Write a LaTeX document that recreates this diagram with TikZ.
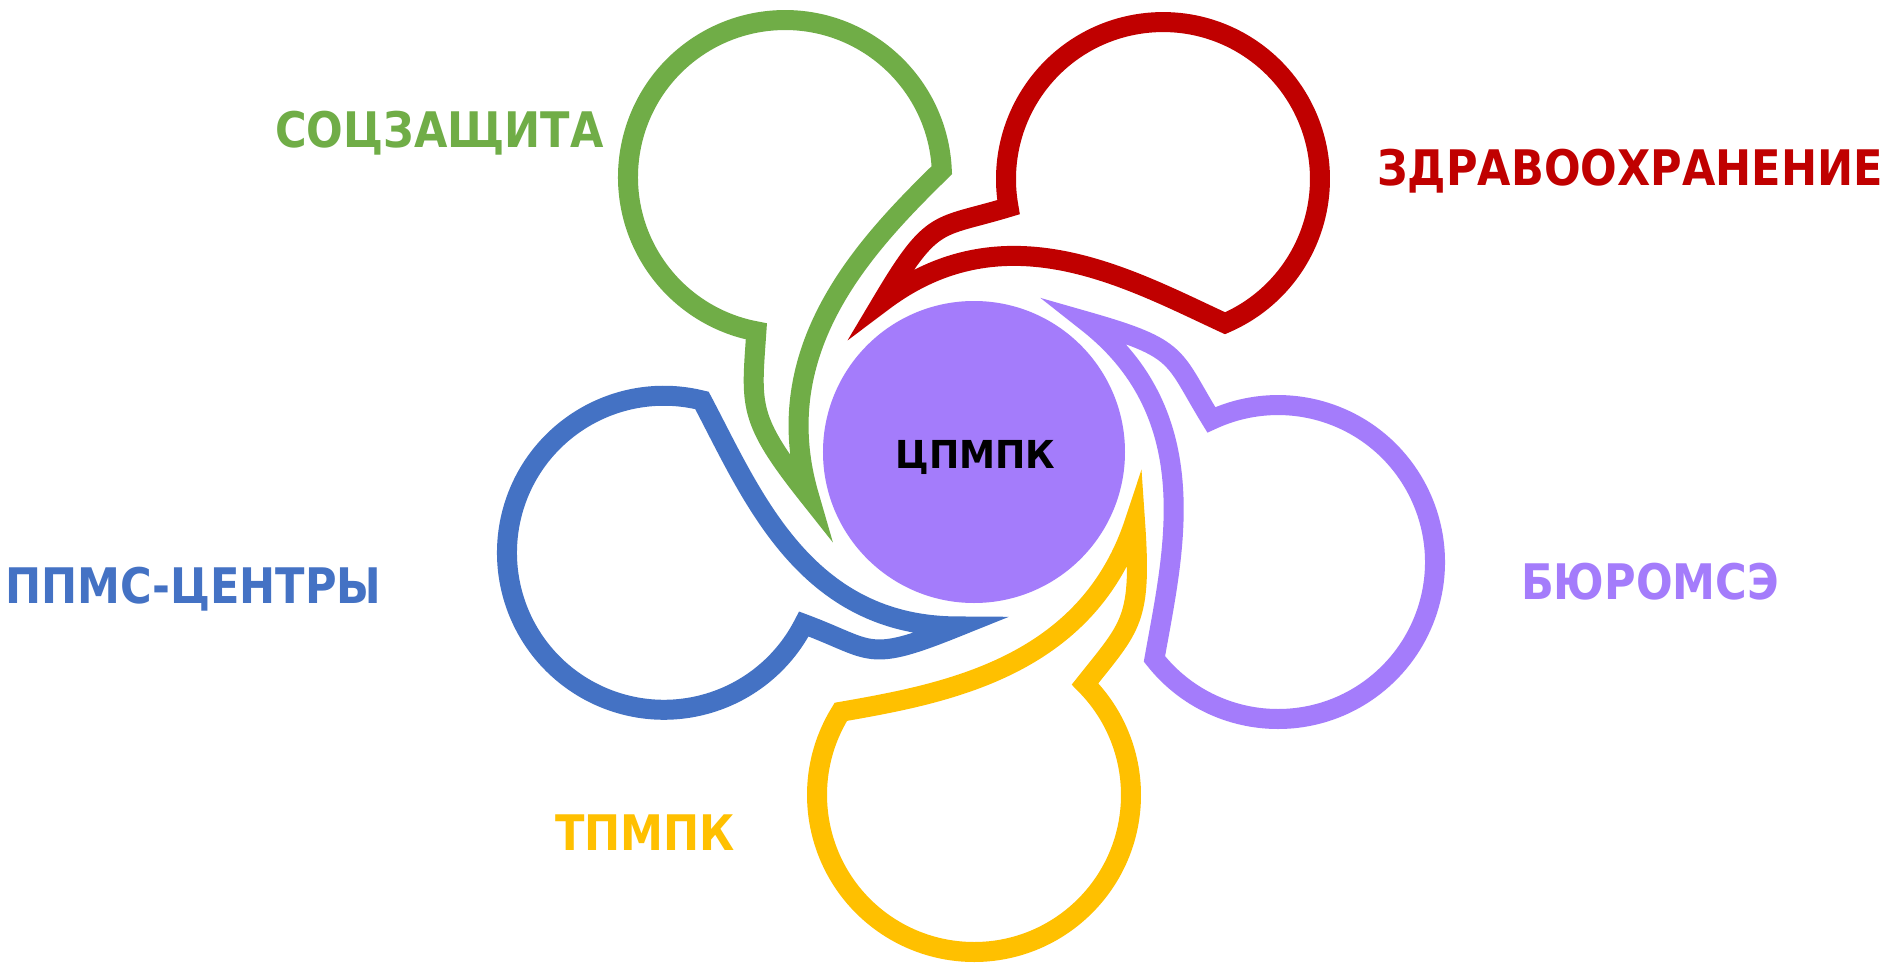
\documentclass[tikz,border=0pt]{standalone}
\usepackage{fontspec}
\setmainfont{DejaVu Sans}
\definecolor{cgreen}{HTML}{70AD47}
\definecolor{cred}{HTML}{C00000}
\definecolor{cblue}{HTML}{4472C4}
\definecolor{cyellow}{HTML}{FFC000}
\definecolor{cpurple}{HTML}{A47CFB}
% #1 colour, #2 rotation about the hub, #3 radial pull-in, #4 tail shortening
\newcommand{\mypetal}[4]{%
 \begin{scope}[rotate=#2, shift={(0,#3)}]
  \draw[bubble, draw=#1] (0,-500) arc[start angle=270, end angle=405, radius=157]
    .. controls (157.6,-173.2) and (168,{-162.8-#4}) .. (161,{-63-#4})
    .. controls (113.4,{-209.5-#4}) and (-28.4,-241.5) .. (-133.1,-259.8)
    arc[start angle=148, end angle=270, radius=157] -- cycle;
 \end{scope}}
\begin{document}
\begin{tikzpicture}[x=1pt,y=1pt,
  bubble/.style={line width=20pt, line join=miter, miter limit=8},
  lbl/.style={font=\fontsize{49}{49}\selectfont\bfseries, anchor=base, inner sep=0pt, transform shape, xscale=0.88}]
\useasboundingbox (-974,-510) rectangle (916,452);
\fill[white] (-974,-510) rectangle (916,452);
\mypetal{cyellow}{0}{0}{6}
\mypetal{cpurple}{70.1}{19.7}{18}
\mypetal{cred}{145.3}{11}{19}
\mypetal{cgreen}{214.5}{9.3}{3}
\mypetal{cblue}{288}{17}{23}
\node[circle, fill=cpurple, minimum size=302pt, inner sep=0pt] (hub) at (0,0) {};
\node[font=\fontsize{38.5}{38.5}\selectfont\bfseries, anchor=base, inner sep=0pt, transform shape, xscale=0.94] (hubtext) at (1.5,-16) {ЦПМПК};
\node[lbl, text=cgreen] (soc) at (-534.5,305) {СОЦЗАЩИТА};
\node[lbl, text=cred] (zdr) at (656,267) {ЗДРАВООХРАНЕНИЕ};
\node[lbl, text=cblue] (ppms) at (-780.5,-151) {ППМС-ЦЕНТРЫ};
\node[lbl, text=cpurple] (buro) at (676,-147) {БЮРОМСЭ};
\node[lbl, text=cyellow] (tpmpk) at (-329,-398) {ТПМПК};
\end{tikzpicture}
\end{document}
